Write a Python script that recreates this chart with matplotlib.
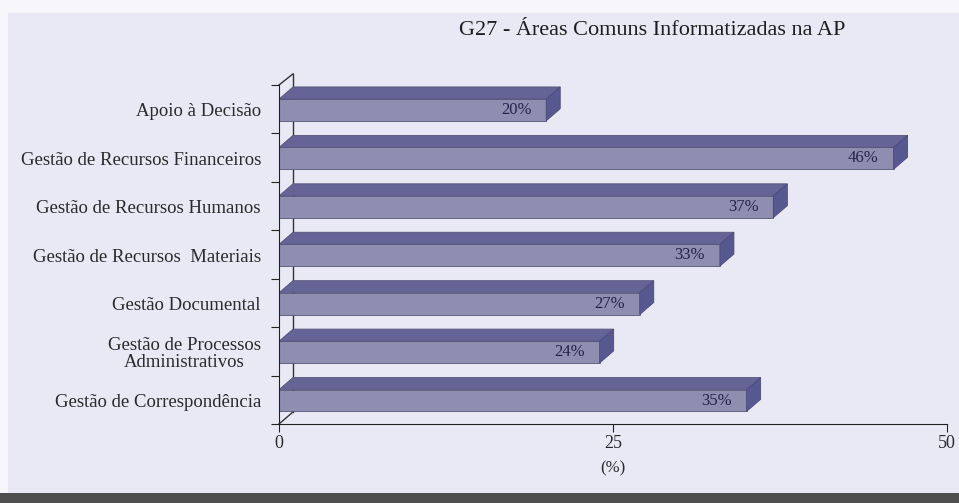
import matplotlib
matplotlib.use("Agg")
import matplotlib.pyplot as plt
from matplotlib.patches import Polygon, Rectangle
import numpy as np

# dados (de cima para baixo)
categorias = ['Apoio à Decisão',
              'Gestão de Recursos Financeiros',
              'Gestão de Recursos Humanos',
              'Gestão de Recursos  Materiais',
              'Gestão Documental',
              'Gestão de Processos\nAdministrativos',
              'Gestão de Correspondência']
valores = [20, 46, 37, 33, 27, 24, 35]
rotulos = ['20%', '46%', '37%', '33%', '27%', '24%', '35%']
xticks = [0, 25, 50]
titulo = 'G27 - Áreas Comuns Informatizadas na AP'

plt.rcParams['font.family'] = ['Liberation Serif', 'DejaVu Serif']

fundo = '#e9e9f5'
cor_frente = '#8e8eb0'
cor_topo = '#646496'
cor_lado = '#585890'
cor_texto = '#2a2a2a'

fig = plt.figure(figsize=(9.59, 5.03), dpi=100)
fig.patch.set_facecolor('#f6f6fb')
# fundo lilás e faixa escura em baixo
fig.patches.append(Rectangle((0.008, 0.02), 0.992, 0.955, transform=fig.transFigure,
                             facecolor=fundo, edgecolor='none', zorder=-10))
fig.patches.append(Rectangle((0, 0), 1, 0.02, transform=fig.transFigure,
                             facecolor='#4e4e4e', edgecolor='none', zorder=-9))

ax = fig.add_axes([0.2909, 0.157, 0.6966, 0.674])
ax.set_facecolor('none')
n = len(categorias)
ax.set_xlim(0, 50)
ax.set_ylim(0, n)

dx = 1.05   # profundidade em %
dy = 0.25   # profundidade em linhas
y0 = 0.26   # base da face frontal dentro da linha
h = 0.45    # altura da face frontal

# parede de fundo
ax.plot([dx, dx], [dy, n + dy - 0.02], color='#333333', lw=1.0, clip_on=False, zorder=1)
ax.plot([0, dx], [n, n + dy - 0.02], color='#333333', lw=1.0, clip_on=False, zorder=1)
ax.plot([0, dx], [0, dy], color='#333333', lw=1.0, clip_on=False, zorder=1)

for k, (v, r) in enumerate(zip(valores, rotulos)):
    y = n - 1 - k + y0
    ax.add_patch(Rectangle((0, y), v, h, facecolor=cor_frente, edgecolor='#55557a',
                           lw=0.6, zorder=3))
    topo = [(0, y + h), (v, y + h), (v + dx, y + h + dy), (dx, y + h + dy)]
    ax.add_patch(Polygon(topo, closed=True, facecolor=cor_topo, edgecolor='#55557a',
                         lw=0.6, zorder=3))
    lado = [(v, y), (v + dx, y + dy), (v + dx, y + h + dy), (v, y + h)]
    ax.add_patch(Polygon(lado, closed=True, facecolor=cor_lado, edgecolor='#4a4a7a',
                         lw=0.6, zorder=3))
    ax.text(v - 1.1, y + h / 2, r, ha='right', va='center', fontsize=12,
            color='#23234a', zorder=4)

# eixos
for s in ['top', 'right']:
    ax.spines[s].set_visible(False)
ax.spines['left'].set_color('#222222')
ax.spines['bottom'].set_color('#222222')
ax.spines['left'].set_zorder(5)

ax.set_yticks(np.arange(n + 1))
ax.set_yticklabels([])
ax.set_yticks(np.arange(n) + y0 + h / 2, minor=True)
ax.set_yticklabels(categorias[::-1], minor=True, fontsize=13.5, color=cor_texto,
                   multialignment='center', linespacing=1.0)
ax.tick_params(axis='y', which='major', length=6, color='#222222')
ax.tick_params(axis='y', which='minor', length=0, pad=13)

ax.set_xticks(xticks)
ax.set_xticklabels([str(t) for t in xticks], fontsize=13, color=cor_texto)
ax.tick_params(axis='x', length=6, color='#222222', pad=2)
ax.set_xlabel('(%)', fontsize=12, color=cor_texto, labelpad=6)

fig.text(0.881, 0.94, titulo, ha='right', va='center', fontsize=16, color='#1e1e1e')

fig.savefig('out.png', dpi=100, facecolor=fig.get_facecolor())
